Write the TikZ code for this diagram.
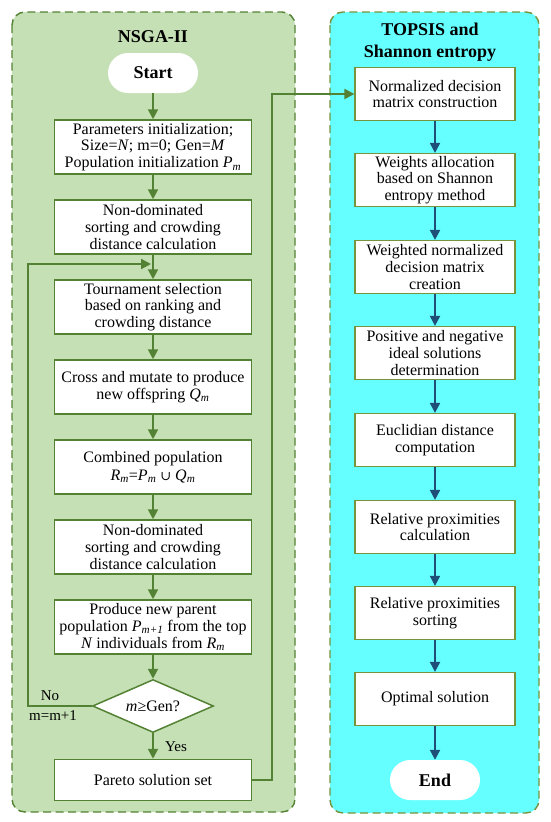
\documentclass[tikz,border=0pt]{standalone}
\usepackage{fontspec}
\setmainfont{Liberation Serif}
\newfontfamily\symbfont{DejaVu Serif}
\usetikzlibrary{arrows.meta,shapes.geometric}

\definecolor{nsgafill}{HTML}{C5E0B4}
\definecolor{nsgaline}{HTML}{548235}
\definecolor{topsfill}{HTML}{66FFFF}
\definecolor{topsline}{HTML}{77933C}
\definecolor{topsarrow}{HTML}{1F4E79}

\newcommand{\sub}[2]{\textit{#1}\textsubscript{\textit{#2}}}

\tikzset{
    panel/.style={dash pattern=on 8pt off 4.5pt, line width=1.4pt, rounded corners=13pt},
    title/.style={font=\fontsize{18}{22}\selectfont\bfseries, align=center},
    nbox/.style={draw=nsgaline, line width=1.5pt, fill=white, minimum width=197pt,
        minimum height=54pt, inner sep=0pt, align=center, font=\fontsize{16}{16.8}\selectfont},
    tbox/.style={draw=topsline, line width=1.2pt, fill=white, minimum width=160pt,
        minimum height=53pt, inner sep=0pt, align=center, font=\fontsize{16}{16.8}\selectfont},
    term/.style={fill=white, rounded corners=20pt, minimum width=90pt, minimum height=40pt,
        font=\fontsize{18}{20}\selectfont\bfseries},
    cond/.style={diamond, draw=nsgaline, line width=1.5pt, fill=white, aspect=2.3, inner sep=1pt,
        minimum width=121pt, minimum height=53pt, font=\fontsize{16}{16.8}\selectfont},
    lbl/.style={font=\fontsize{15}{16}\selectfont},
    garrow/.style={draw=nsgaline, line width=2pt, -{Triangle[width=10pt,length=10pt]}},
    barrow/.style={draw=topsarrow, line width=2pt, -{Triangle[width=10pt,length=10pt]}}
}

\begin{document}
\begin{tikzpicture}[x=1pt,y=-1pt]
    \useasboundingbox (0,0) rectangle (550,822);

    % panels
    \draw[panel, draw=nsgaline, fill=nsgafill] (12,12) rectangle (295,812);
    \draw[panel, draw=topsline, fill=topsfill] (330,12) rectangle (539,813);

    \node[title] (nsga) at (153,37) {NSGA-II};
    \node[title] (tops) at (430,42) {TOPSIS and\\Shannon entropy};

    % NSGA-II
    \node[term] (start) at (153,73) {Start};
    \node[nbox] (init) at (153,147) {Parameters initialization;\\Size=\textit{N}; m=0; Gen=\textit{M}\\Population initialization \sub{P}{m}};
    \node[nbox] (sort1) at (153,227) {Non-dominated\\sorting and crowding\\distance calculation};
    \node[nbox] (tour) at (153,307) {Tournament selection\\based on ranking and\\crowding distance};
    \node[nbox] (cross) at (153,387) {Cross and mutate to produce\\new offspring \sub{Q}{m}};
    \node[nbox] (comb) at (153,467) {Combined population\\[1pt]\sub{R}{m}=\sub{P}{m} {\symbfont\fontsize{13}{14}\selectfont ∪} \sub{Q}{m}};
    \node[nbox] (sort2) at (153,547) {Non-dominated\\sorting and crowding\\distance calculation};
    \node[nbox] (parent) at (153,627) {Produce new parent\\population \sub{P}{m+1} from the top\\\textit{N} individuals from \sub{R}{m}};
    \node[cond] (check) at (153,706) {\textit{m}≥Gen?};
    \node[nbox, minimum height=41pt] (pareto) at (153,780) {Pareto solution set};

    \node[lbl] (no) at (50,696) {No};
    \node[lbl] (incr) at (53,716) {m=m+1};
    \node[lbl] (yes) at (176,747) {Yes};

    \coordinate (loopin) at (151,264);
    \coordinate (loopx) at (28,264);
    \coordinate (linkx) at (272,94);

    \draw[garrow] (start) -- (init);
    \draw[garrow] (init) -- (sort1);
    \draw[garrow] (sort1) -- (tour);
    \draw[garrow] (tour) -- (cross);
    \draw[garrow] (cross) -- (comb);
    \draw[garrow] (comb) -- (sort2);
    \draw[garrow] (sort2) -- (parent);
    \draw[garrow] (parent) -- (check);
    \draw[garrow] (check) -- (pareto);
    \draw[garrow] (check.west) -| (loopx) -- (loopin);

    % TOPSIS and Shannon entropy
    \foreach \i/\y/\txt in {1/94/{Normalized decision\\matrix construction},
                            2/180/{Weights allocation\\based on Shannon\\entropy method},
                            3/267/{Weighted normalized\\decision matrix\\creation},
                            4/353/{Positive and negative\\ideal solutions\\determination},
                            5/440/{Euclidian distance\\computation},
                            6/527/{Relative proximities\\calculation},
                            7/613/{Relative proximities\\sorting},
                            8/699/{Optimal solution}}
    {
        \node[tbox] (r\i) at (435,\y) {\txt};
    }
    \node[term] (end) at (435,780) {End};

    \foreach \j [count=\i] in {2,...,8}
    {
        \draw[barrow] (r\i) -- (r\j);
    }
    \draw[barrow] (r8) -- (end);

    \draw[garrow] (pareto.east) -| (linkx) -- (r1.west);
\end{tikzpicture}
\end{document}
